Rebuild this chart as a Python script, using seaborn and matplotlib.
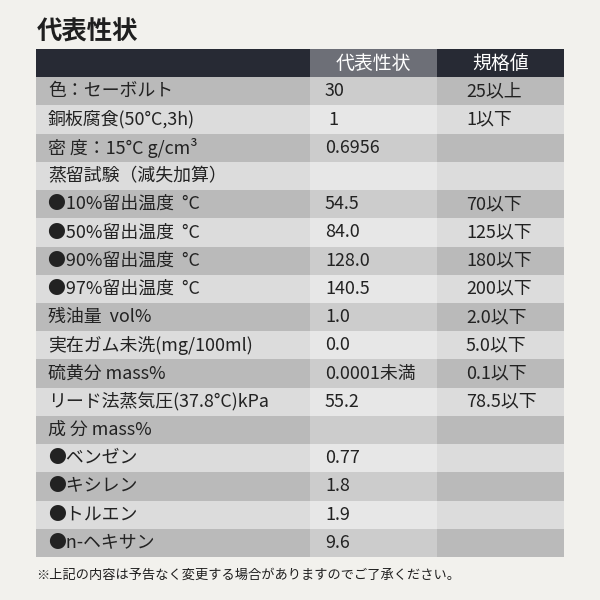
import numpy as np
import pandas as pd
import seaborn as sns
import matplotlib
matplotlib.use("Agg")
import matplotlib.pyplot as plt
from matplotlib.colors import ListedColormap

# ─────────────────────────────────────────
# DATA
# ─────────────────────────────────────────
TITLE = "代表性状"
HEADERS = ["", "代表性状", "規格値"]
ITEMS = [
    "色：セーボルト",
    "銅板腐食(50°C,3h)",
    "密 度：15°C g/cm³",
    "蒸留試験（減失加算）",
    "●10%留出温度  °C",
    "●50%留出温度  °C",
    "●90%留出温度  °C",
    "●97%留出温度  °C",
    "残油量  vol%",
    "実在ガム未洗(mg/100ml)",
    "硫黄分 mass%",
    "リード法蒸気圧(37.8°C)kPa",
    "成 分 mass%",
    "●ベンゼン",
    "●キシレン",
    "●トルエン",
    "●n-ヘキサン",
]
TYPICAL = ["30", " 1", "0.6956", "", "54.5", "84.0", "128.0", "140.5", "1.0",
           "0.0", "0.0001未満", "55.2", "", "0.77", "1.8", "1.9", "9.6"]
SPEC = ["25以上", "1以下", "", "", "70以下", "125以下", "180以下", "200以下",
        "2.0以下", "5.0以下", "0.1以下", "78.5以下", "", "", "", "", ""]
FOOTNOTE = "※上記の内容は予告なく変更する場合がありますのでご了承ください。"

# ─────────────────────────────────────────
# STYLE / LAYOUT
# ─────────────────────────────────────────
sns.set_theme(style="white")
plt.rcParams["font.family"] = ["Noto Sans CJK JP", "DejaVu Sans"]

BG = "#f2f1ed"
SHADES = ["#272a34", "#6d6f77", "#bababa", "#cccccc", "#dcdcdc", "#e7e7e7"]
COL_UNITS = [274, 127, 127]     # column widths in px (one sub-cell per px)
TEXT_C = "#222222"
FS = 12.9

# shade code per cell: header row, then alternating rows
n_rows = len(ITEMS)
codes = [[0, 1, 0]]
for i in range(n_rows):
    codes.append([2, 3, 2] if i % 2 == 0 else [4, 5, 4])
codes = np.array(codes)
grid = pd.DataFrame(np.repeat(codes, COL_UNITS, axis=1))

fig = plt.figure(figsize=(6, 6), dpi=100, facecolor=BG)
ax = fig.add_axes([36 / 600, 1 - 557 / 600, 528 / 600, 508 / 600])
sns.heatmap(grid, cmap=ListedColormap(SHADES), vmin=-0.5, vmax=len(SHADES) - 0.5,
            cbar=False, linewidths=0, xticklabels=False, yticklabels=False, ax=ax)
ax.set_xlabel(""); ax.set_ylabel("")

edges = np.concatenate([[0], np.cumsum(COL_UNITS)])
centers = (edges[:-1] + edges[1:]) / 2

# header
for c, h in enumerate(HEADERS):
    if h:
        ax.text(centers[c], 0.5, h, ha="center", va="center", color="white", fontsize=13.6)

# body
for i in range(n_rows):
    y = i + 1.5
    ax.text(edges[0] + 12, y, ITEMS[i], ha="left", va="center", color=TEXT_C, fontsize=FS)
    ax.text(edges[1] + 15, y, TYPICAL[i], ha="left", va="center", color=TEXT_C, fontsize=FS)
    ax.text(edges[2] + 29, y, SPEC[i], ha="left", va="center", color=TEXT_C, fontsize=FS)

fig.text(37 / 600, 1 - 32 / 600, TITLE, ha="left", va="center", fontsize=18.3,
         fontweight="bold", color="#1f1f1f")
fig.text(36 / 600, 1 - 575 / 600, FOOTNOTE, ha="left", va="center", fontsize=9.5,
         color="#1f1f1f")

plt.savefig("out.png", dpi=100, facecolor=BG)
